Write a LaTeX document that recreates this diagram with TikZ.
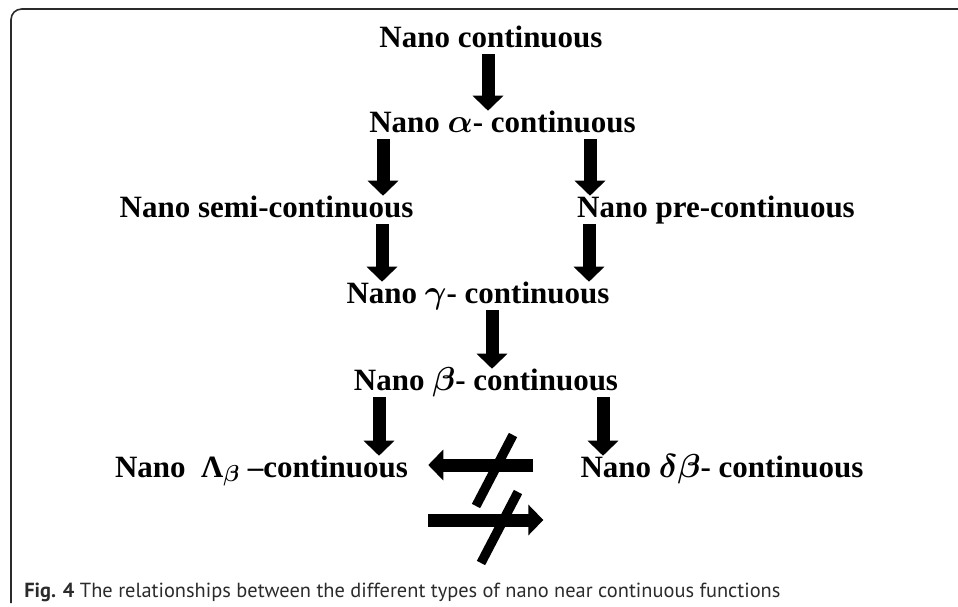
\documentclass[tikz,border=0pt]{standalone}
\usepackage{fontspec}
\usepackage{amsmath}
\usepackage{amssymb}
\setmainfont{Liberation Serif}
\newfontfamily\capfont{PT Sans}
\usetikzlibrary{arrows.meta, calc}
\definecolor{framegray}{HTML}{2B2B2B}
\newcommand{\upx}{0.75pt}
\tikzset{
  lbl/.style={anchor=base, inner sep=0pt, text height=15.75pt, text depth=5.25pt,
    font=\fontsize{23.25}{28}\selectfont\bfseries},
  blk/.style={line width=9.75pt, -{Triangle[width=22.5pt, length=11.25pt]}},
  crossbar/.style={line width=7pt},
}
\newcommand{\blkdown}[3]{%
  \draw[blk] ([xshift=#3*\upx]#1.south) -- ([xshift=#3*\upx]#1.south |- #2.north);%
}

\begin{document}
\begin{tikzpicture}[x=0.75pt, y=-0.75pt]
    \useasboundingbox (0,0) rectangle (958,607);
    % frame
    \draw[framegray, line width=1.2pt, rounded corners=8pt] (11,603) -- (11,9) -- (958,9);

    % labels
    \node[lbl] (cont)  at (491,47)    {Nano continuous};
    \node[lbl] (alpha) at (502.5,132) {Nano $\boldsymbol{\alpha}$- continuous};
    \node[lbl] (semi)  at (266.5,217) {Nano semi-continuous};
    \node[lbl] (pre)   at (716,217)   {Nano pre-continuous};
    \node[lbl] (gamma) at (478,303)   {Nano $\boldsymbol{\gamma}$- continuous};
    \node[lbl] (beta)  at (486,390)   {Nano $\boldsymbol{\beta}$- continuous};
    \node[lbl] (lam)   at (261.5,477) {Nano~~Λ$_{\boldsymbol{\beta}}$ --continuous};
    \node[lbl] (dbeta) at (722,477)   {Nano $\boldsymbol{\delta\beta}$- continuous};

    % implications
    \blkdown{cont}{alpha}{-3}
    \blkdown{alpha}{semi}{-119.5}
    \blkdown{alpha}{pre}{87.5}
    \blkdown{semi}{gamma}{115.5}
    \blkdown{pre}{gamma}{-127}
    \blkdown{gamma}{beta}{14}
    \blkdown{beta}{lam}{-107}
    \blkdown{beta}{dbeta}{117}

    % non-implications
    \draw[blk] ($(dbeta.base west)+(-47,-12)$) -- ($(lam.base east)+(20,-12)$);
    \draw[blk] ($(lam.base east)+(20,43)$) -- ($(dbeta.base west)+(-37,43)$);
    \draw[crossbar] (513,435) -- (476,506);
    \draw[crossbar] (518,492) -- (481,563);

    % caption
    \node[anchor=base west, inner sep=0pt, text=framegray,
      font=\capfont\fontsize{15.3}{18}\selectfont] (cap) at (24,597)
      {\textbf{Fig. 4} The relationships between the different types of nano near continuous functions};
\end{tikzpicture}
\end{document}
